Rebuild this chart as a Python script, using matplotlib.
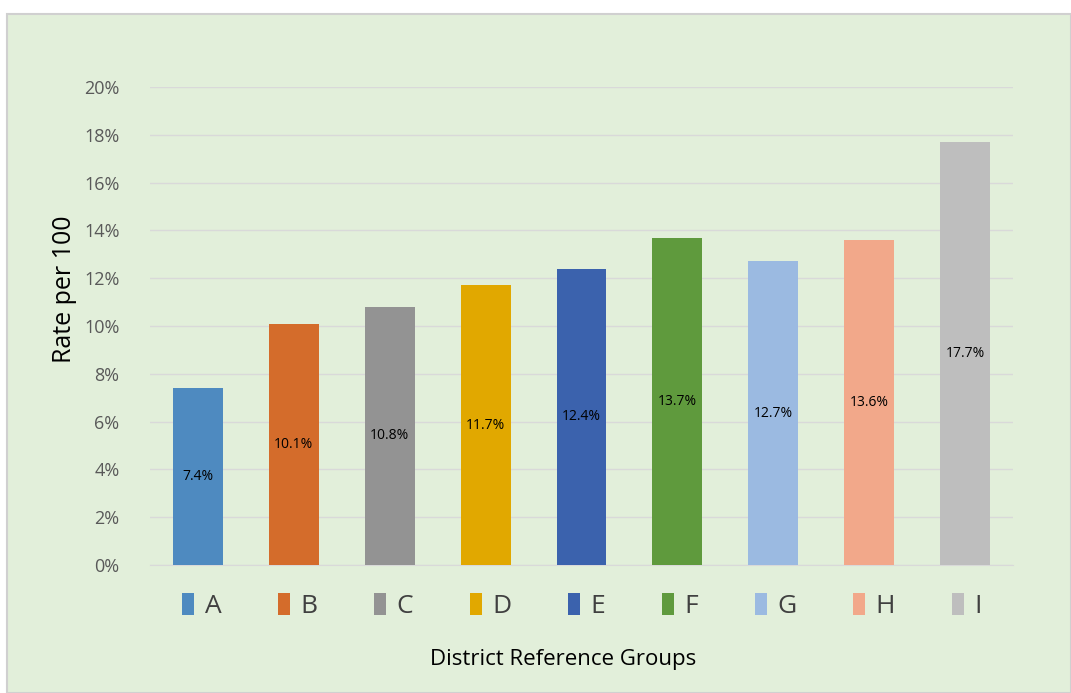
import matplotlib
matplotlib.use("Agg")
import matplotlib.pyplot as plt
from matplotlib.patches import Rectangle, Patch
from matplotlib.ticker import PercentFormatter

groups = ["A", "B", "C", "D", "E", "F", "G", "H", "I"]
rates = [7.4, 10.1, 10.8, 11.7, 12.4, 13.7, 12.7, 13.6, 17.7]
colors = ["#4E8AC0", "#D46C2B", "#939393", "#E1A800", "#3B62AD",
          "#5F9A3D", "#9BBAE1", "#F2A88A", "#BEBEBE"]
yticks = [0, 2, 4, 6, 8, 10, 12, 14, 16, 18, 20]

plt.rcParams['font.family'] = ['Open Sans', 'DejaVu Sans']

fig = plt.figure(figsize=(10.71, 6.93), dpi=100)
fig.patch.set_facecolor("white")
# chart area background, behind the axes
fig.patches.append(Rectangle((7/1071, 0), 1 - 7/1071, 1 - 14/693,
                             transform=fig.transFigure, facecolor="#E2EFDA",
                             edgecolor="#D0D0D0", linewidth=1.5, zorder=-10))

ax = fig.add_axes([150/1071, 1 - 565/693, (1013 - 150)/1071, (565 - 87)/693])
ax.set_facecolor("none")

x = range(len(groups))
bars = ax.bar(x, rates, width=0.52, color=colors, zorder=3)
for xi, r in zip(x, rates):
    ax.text(xi, r / 2, f"{r}%", ha="center", va="center", fontsize=10,
            color="black", zorder=4)

ax.set_xlim(-0.5, len(groups) - 0.5)
ax.set_ylim(0, 20)
ax.set_yticks(yticks)
ax.yaxis.set_major_formatter(PercentFormatter(decimals=0))
ax.grid(axis="y", color="#D9D9D9", linewidth=1, zorder=0)
ax.set_xticks([])
for s in ["top", "right", "left"]:
    ax.spines[s].set_visible(False)
ax.spines["bottom"].set_color("#D9D9D9")
ax.tick_params(axis="y", length=0, labelsize=13, labelcolor="#595959", pad=22)

ax.set_ylabel("Rate per 100", fontsize=18, color="black")
ax.yaxis.set_label_coords(-0.085, 0.577)

handles = [Patch(facecolor=c, label=g) for g, c in zip(groups, colors)]
fig.legend(handles=handles, loc="center", bbox_to_anchor=(582/1071, 1 - 606/693),
           ncol=9, frameon=False, fontsize=19, handlelength=0.45, handleheight=0.9,
           handletextpad=0.4, columnspacing=2.15, labelcolor="#404040")

fig.text(563/1071, 1 - 660/693, "District Reference Groups", ha="center",
         va="center", fontsize=16, color="black")

fig.savefig("out.png", dpi=100, facecolor=fig.get_facecolor())
